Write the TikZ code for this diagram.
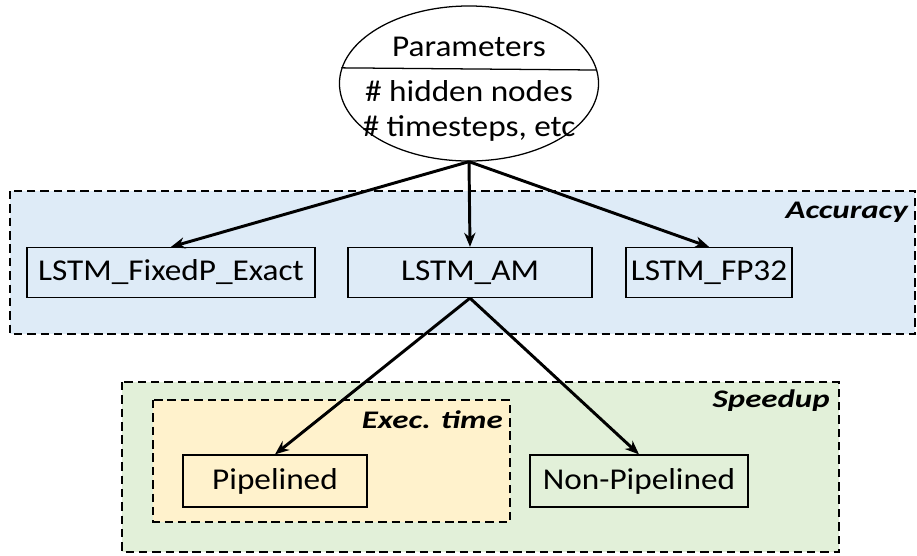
\documentclass[tikz,border=0pt]{standalone}
\usepackage{fontspec}
\setmainfont{Carlito}[FakeStretch=1.1]
\newfontfamily\groupfont{Carlito}[FakeStretch=1.3]
\usetikzlibrary{shapes.geometric,arrows.meta}
\definecolor{accfill}{HTML}{DEEBF7}
\definecolor{spdfill}{HTML}{E2F0D9}
\definecolor{exefill}{HTML}{FFF2CC}

\begin{document}
\begin{tikzpicture}[
    x=0.025cm, y=-0.025cm,
    >={Stealth[length=10pt,width=8pt]},
    region/.style={draw, dash pattern=on 6pt off 3.5pt, line width=0.8pt},
    grouplabel/.style={font=\groupfont\fontsize{18}{21}\selectfont\bfseries\itshape, inner sep=0pt},
    box/.style={draw, line width=0.9pt, minimum height=1.25cm, inner sep=0pt, font=\fontsize{21.5}{25}\selectfont},
    link/.style={->, line width=2.1pt}
    ]
\useasboundingbox (0,0) rectangle (917,555);
% dashed groups
\draw[region, fill=accfill] (10,191) rectangle (915,334);
\draw[region, fill=spdfill] (122,382) rectangle (839,552);
\draw[region, fill=exefill] (153,400) rectangle (510,522);
\node[grouplabel, anchor=base east] (acc) at (908,218) {Accuracy};
\node[grouplabel, anchor=base east] (spd) at (830,407) {Speedup};
\node[grouplabel, anchor=base east] (exe) at (503,428) {Exec. time};
% parameters
\node[draw, ellipse, line width=0.9pt, minimum width=6.475cm, minimum height=3.875cm, inner sep=0pt] (par) at (469,83.5) {};
\draw[line width=0.9pt] (par.173.7) -- (par.6.3);
\node[font=\fontsize{21.5}{25}\selectfont] (partitle) at (469,47) {Parameters};
\node[font=\fontsize{21.5}{24.9}\selectfont, align=center] (parlist) at (469,111) {\# hidden nodes\\ \# timesteps, etc};
% variants
\node[box, minimum width=7.2cm] (fixedp) at (171,272.5) {LSTM\_FixedP\_Exact};
\node[box, minimum width=6.1cm] (am) at (470,272.5) {LSTM\_AM};
\node[box, minimum width=4.15cm] (fp32) at (709,272.5) {LSTM\_FP32};
\node[box, minimum width=4.6cm, minimum height=1.3cm] (pipe) at (275,481) {Pipelined};
\node[box, minimum width=5.45cm, minimum height=1.3cm] (nonpipe) at (639,481) {Non-Pipelined};
% links
\draw[link] (par.south) -- (fixedp.north);
\draw[link] (par.south) -- (am.north);
\draw[link] (par.south) -- (fp32.north);
\draw[link] (am.south) -- (pipe.north);
\draw[link] (am.south) -- (nonpipe.north);
\end{tikzpicture}
\end{document}
